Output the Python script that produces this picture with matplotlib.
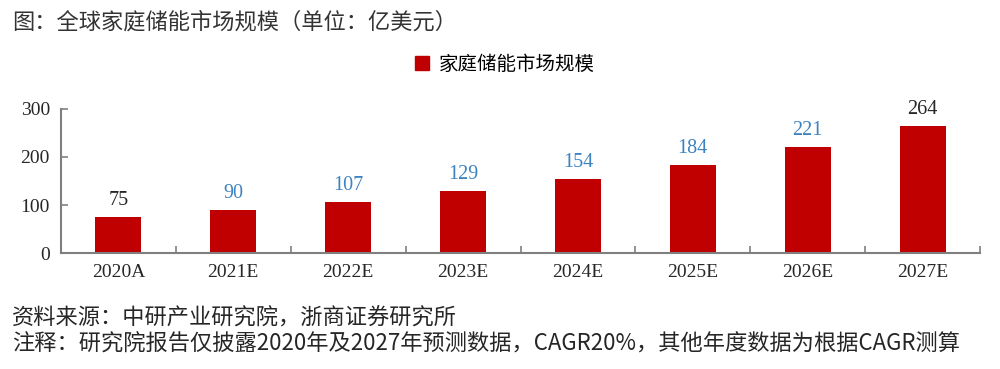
import matplotlib
matplotlib.use("Agg")
import matplotlib.pyplot as plt
from matplotlib.patches import Patch

years = ["2020A", "2021E", "2022E", "2023E", "2024E", "2025E", "2026E", "2027E"]
market_size = [75, 90, 107, 129, 154, 184, 221, 264]
# disclosed figures are dark, CAGR-derived ones are blue
disclosed = [True, False, False, False, False, False, False, True]

title = "图：全球家庭储能市场规模（单位：亿美元）"
legend_label = "家庭储能市场规模"
source = "资料来源：中研产业研究院，浙商证券研究所"
note = "注释：研究院报告仅披露2020年及2027年预测数据，CAGR20%，其他年度数据为根据CAGR测算"

CJK = ["Noto Sans CJK SC", "DejaVu Sans"]
SERIF = ["Liberation Serif", "DejaVu Serif"]
BAR = "#C00000"
AXIS = "#7F7F7F"

fig = plt.figure(figsize=(10, 3.69), dpi=100)
ax = fig.add_axes([0.061, 0.314, 0.919, 0.391])

x = range(len(years))
ax.bar(x, market_size, width=0.4, color=BAR)
ax.set_xlim(-0.5, len(years) - 0.5)
ax.set_ylim(0, 300)
ax.set_yticks([0, 100, 200, 300])

for xi, v, d in zip(x, market_size, disclosed):
    ax.text(xi, v + 14, f"{v}", ha="center", va="bottom", fontsize=14.5,
            family=SERIF, color="#262626" if d else "#3E83C1")

# category ticks sit on the boundaries, labels in the middle
ax.set_xticks([i + 0.5 for i in range(len(years) - 1)] + [len(years) - 0.5])
ax.set_xticklabels([])
ax.set_xticks(list(x), minor=True)
ax.set_xticklabels(years, minor=True)
ax.tick_params(axis="x", which="major", direction="in", length=5, color=AXIS, width=1.2)
ax.tick_params(axis="x", which="minor", length=0, pad=8)
ax.tick_params(axis="y", direction="in", length=5, color=AXIS, width=1.2, pad=8)
for lab in ax.get_xticklabels(minor=True) + ax.get_yticklabels():
    lab.set_family(SERIF)
    lab.set_fontsize(14)
    lab.set_color("#262626")

for side in ("top", "right"):
    ax.spines[side].set_visible(False)
for side in ("left", "bottom"):
    ax.spines[side].set_color(AXIS)
    ax.spines[side].set_linewidth(1.5)

fig.legend(handles=[Patch(color=BAR, label=legend_label)], loc="center",
           bbox_to_anchor=(0.505, 0.826), frameon=False, handlelength=0.7,
           handleheight=0.7, handletextpad=0.5, prop={"family": CJK, "size": 14})

fig.text(0.012, 0.94, title, ha="left", va="center", fontsize=16, family=CJK, color="#333333")
fig.text(0.012, 0.138, source, ha="left", va="center", fontsize=16, family=CJK, color="#262626")
fig.text(0.012, 0.068, note, ha="left", va="center", fontsize=16, family=CJK, color="#262626")

fig.savefig("out.png", dpi=100)
